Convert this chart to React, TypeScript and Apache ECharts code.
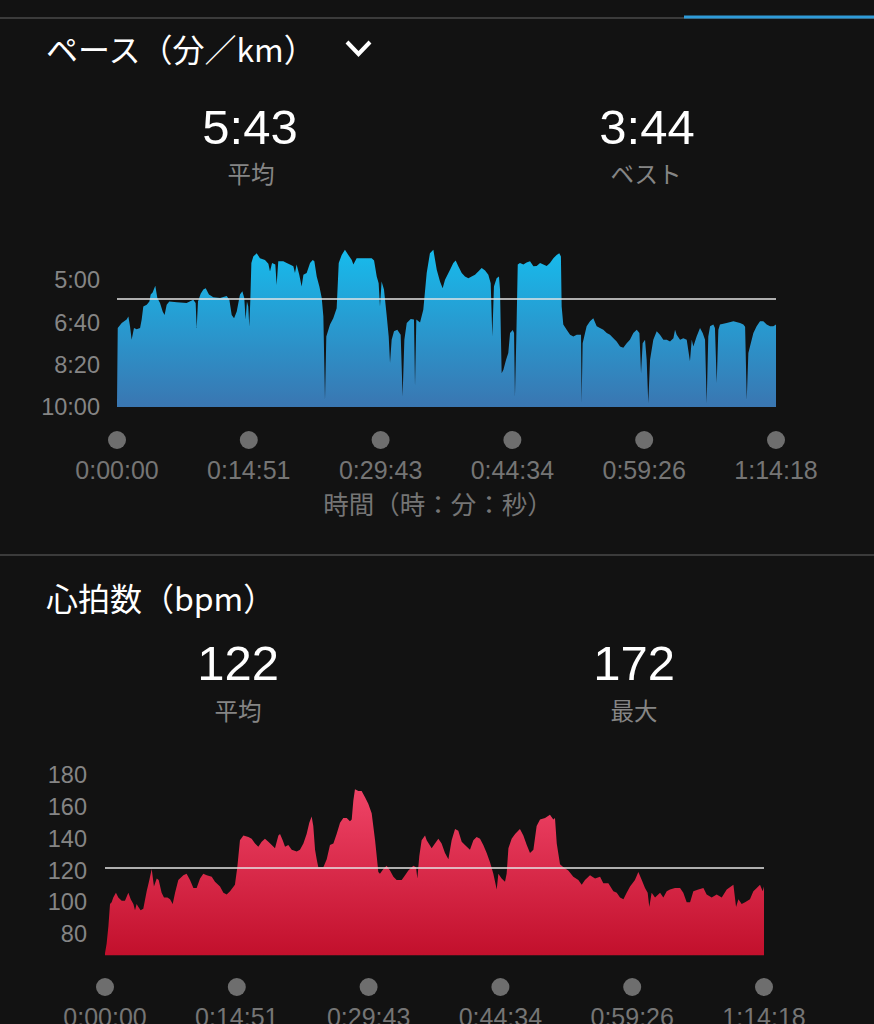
import React, { useEffect, useRef } from 'react';
import * as echarts from 'echarts';

// ---- Data ----
const TOTAL_SEC = 4458; // 1:14:18
const PACE_AVG = 343; // 5:43
const PACE_BEST = 224; // 3:44
const HR_AVG = 122;
const HR_MAX = 172;

const PACE_TIME = [
  0, 5, 32, 65, 77, 88, 99, 115, 133, 156, 167, 178, 201, 219, 228, 241, 259, 273, 291, 309,
  322, 336, 354, 404, 471, 516, 532, 539, 548, 566, 584, 600, 622, 652, 697, 742, 760, 776, 792, 810,
  832, 848, 861, 870, 879, 888, 895, 902, 909, 922, 945, 967, 1001, 1024, 1035, 1049, 1071, 1080, 1091, 1125,
  1148, 1170, 1193, 1204, 1215, 1233, 1249, 1261, 1283, 1306, 1324, 1335, 1351, 1369, 1385, 1396, 1407, 1416, 1441, 1463,
  1486, 1500, 1520, 1542, 1565, 1588, 1599, 1621, 1666, 1723, 1739, 1757, 1770, 1779, 1790, 1806, 1824, 1838, 1847, 1858,
  1874, 1896, 1919, 1932, 1944, 1960, 1987, 2009, 2016, 2025, 2050, 2072, 2095, 2117, 2140, 2163, 2185, 2203, 2219, 2253,
  2275, 2291, 2309, 2332, 2354, 2377, 2399, 2422, 2444, 2467, 2490, 2512, 2528, 2539, 2550, 2568, 2584, 2591, 2602, 2614,
  2632, 2647, 2659, 2677, 2686, 2692, 2701, 2711, 2726, 2749, 2771, 2794, 2817, 2839, 2862, 2884, 2907, 2929, 2952, 2974,
  2992, 3003, 3008, 3019, 3042, 3065, 3087, 3110, 3139, 3143, 3150, 3177, 3200, 3222, 3245, 3267, 3290, 3313, 3335, 3358,
  3380, 3403, 3425, 3448, 3470, 3493, 3516, 3534, 3545, 3556, 3572, 3583, 3594, 3606, 3628, 3651, 3673, 3696, 3719, 3741,
  3764, 3775, 3786, 3809, 3831, 3854, 3876, 3888, 3899, 3921, 3944, 3962, 3978, 3989, 4000, 4012, 4034, 4045, 4057, 4068,
  4079, 4124, 4170, 4215, 4237, 4249, 4260, 4271, 4282, 4305, 4327, 4350, 4372, 4395, 4418, 4440, 4458,
];
const PACE_SEC = [
  591, 413, 401, 393, 386, 409, 441, 413, 416, 413, 393, 362, 358, 350, 334, 329, 313, 342, 354, 374,
  382, 358, 350, 352, 354, 346, 354, 413, 350, 332, 322, 319, 334, 340, 342, 337, 346, 382, 390, 374,
  334, 326, 342, 393, 350, 362, 410, 346, 259, 244, 236, 248, 252, 261, 279, 259, 263, 311, 255, 255,
  259, 263, 267, 283, 263, 287, 315, 287, 283, 259, 252, 255, 291, 315, 342, 386, 583, 433, 405, 390,
  366, 259, 240, 228, 240, 252, 263, 248, 248, 248, 253, 291, 307, 362, 303, 322, 382, 433, 496, 441,
  421, 417, 429, 575, 441, 401, 392, 393, 551, 393, 400, 370, 283, 236, 228, 275, 303, 319, 299, 275,
  259, 253, 267, 283, 291, 295, 291, 287, 279, 271, 277, 287, 307, 433, 315, 295, 291, 322, 520, 512,
  488, 472, 425, 418, 425, 575, 441, 263, 259, 263, 258, 255, 267, 266, 259, 263, 266, 259, 248, 240,
  236, 244, 362, 405, 417, 429, 433, 429, 429, 591, 449, 409, 397, 390, 409, 413, 417, 425, 429, 437,
  445, 457, 460, 449, 441, 425, 417, 425, 520, 449, 441, 488, 591, 488, 441, 421, 429, 441, 441, 445,
  437, 417, 429, 441, 437, 441, 492, 441, 457, 433, 413, 425, 441, 591, 433, 409, 405, 413, 543, 417,
  405, 401, 397, 401, 405, 410, 583, 472, 457, 425, 409, 397, 397, 405, 409, 409, 405,
];

const HR_TIME = [
  0, 11, 23, 34, 45, 56, 74, 90, 113, 135, 158, 174, 192, 203, 214, 226, 241, 259, 282, 300,
  316, 331, 350, 363, 383, 399, 422, 440, 458, 474, 496, 530, 552, 575, 598, 620, 643, 665, 688, 722,
  744, 778, 801, 823, 846, 879, 895, 913, 936, 970, 992, 1015, 1037, 1060, 1082, 1105, 1128, 1150, 1173, 1184,
  1202, 1218, 1240, 1263, 1297, 1319, 1342, 1364, 1382, 1398, 1409, 1421, 1432, 1443, 1477, 1500, 1522, 1545, 1567, 1590,
  1612, 1635, 1657, 1669, 1680, 1691, 1714, 1736, 1759, 1781, 1804, 1827, 1849, 1860, 1883, 1905, 1928, 1951, 1973, 2007,
  2030, 2052, 2086, 2104, 2113, 2126, 2142, 2165, 2176, 2210, 2232, 2255, 2277, 2300, 2323, 2345, 2368, 2390, 2413, 2435,
  2469, 2492, 2514, 2537, 2559, 2582, 2605, 2627, 2650, 2661, 2683, 2706, 2717, 2729, 2751, 2774, 2807, 2830, 2853, 2875,
  2898, 2920, 2943, 2977, 3010, 3033, 3044, 3056, 3078, 3101, 3134, 3168, 3202, 3225, 3247, 3281, 3315, 3349, 3371, 3405,
  3439, 3462, 3484, 3507, 3529, 3552, 3585, 3608, 3631, 3653, 3671, 3682, 3698, 3721, 3755, 3777, 3800, 3822, 3856, 3890,
  3912, 3935, 3958, 3980, 4014, 4048, 4070, 4104, 4138, 4172, 4206, 4251, 4269, 4285, 4307, 4330, 4363, 4386, 4409, 4431,
  4449, 4458,
];
const HR_BPM = [
  68, 74, 85, 99, 100, 103, 106, 103, 101, 101, 106, 102, 99, 95, 99, 97, 95, 96, 107, 114,
  121, 110, 115, 114, 106, 103, 103, 102, 99, 106, 114, 117, 118, 114, 109, 109, 115, 118, 117, 116,
  113, 110, 106, 105, 107, 111, 122, 139, 142, 141, 140, 137, 135, 138, 140, 138, 136, 134, 142, 143,
  139, 135, 136, 133, 132, 133, 137, 143, 150, 154, 148, 133, 127, 122, 122, 127, 136, 137, 143, 150,
  153, 153, 151, 152, 164, 171, 170, 170, 166, 162, 156, 139, 119, 118, 121, 123, 120, 116, 114, 114,
  117, 120, 123, 122, 115, 129, 139, 142, 139, 134, 137, 140, 137, 131, 127, 139, 146, 145, 138, 136,
  133, 139, 141, 140, 136, 131, 125, 118, 108, 118, 115, 113, 118, 134, 140, 143, 146, 142, 136, 131,
  133, 148, 152, 153, 155, 152, 153, 137, 124, 122, 120, 116, 114, 111, 114, 117, 115, 116, 112, 112,
  107, 106, 103, 102, 106, 110, 114, 119, 114, 109, 106, 97, 106, 103, 106, 103, 107, 108, 109, 109,
  106, 100, 100, 107, 108, 109, 105, 103, 105, 103, 108, 111, 97, 102, 99, 100, 102, 107, 109, 111,
  107, 110,
];

const PACE_TICKS_HIDDEN = [200]; // axis top, unlabeled
const HR_TICKS_HIDDEN = [60];
const HR_FLOOR = 66.8;

// ---- helpers ----
const pad = (n: number) => String(n).padStart(2, '0');
const fmtPace = (v: number) => {
  const s = Math.round(v);
  return `${Math.floor(s / 60)}:${pad(s % 60)}`;
};
const fmtTime = (v: number) => {
  const s = Math.floor(Math.round(v * 10) / 10);
  return `${Math.floor(s / 3600)}:${pad(Math.floor((s % 3600) / 60))}:${pad(s % 60)}`;
};

const NUM_FONT = "'Liberation Sans', Arial, sans-serif";
const JP_FONT = "'Noto Sans CJK JP', 'Noto Sans', sans-serif";
const BG = '#121212';
const LABEL_GRAY = '#858585';
const TICK_GRAY = '#757575';
const DOT_GRAY = '#6e6e6e';

const xAxisFor = (gridIndex: number, margin: number) => ({
  type: 'value',
  gridIndex,
  min: 0,
  max: TOTAL_SEC,
  interval: TOTAL_SEC / 5,
  axisLine: { show: false },
  axisTick: { show: false },
  splitLine: { show: false },
  axisLabel: {
    margin,
    showMinLabel: true,
    showMaxLabel: true,
    formatter: (v: number) => `{d|}\n{t|${fmtTime(v)}}`,
    rich: {
      d: { width: 18, height: 18, borderRadius: 9, backgroundColor: DOT_GRAY, lineHeight: 30, align: 'center' },
      t: { fontSize: 25, color: TICK_GRAY, fontFamily: NUM_FONT, lineHeight: 30, align: 'center' },
    },
  },
});

export default function App() {
  const ref = useRef<HTMLDivElement>(null);

  useEffect(() => {
    document.body.style.margin = '0';
    document.body.style.background = BG;
    if (!ref.current) return;
    const chart = echarts.init(ref.current, null, { renderer: 'svg' });

    const paceData = PACE_TIME.map((t, i) => [t, PACE_SEC[i]]);
    const hrData = HR_TIME.map((t, i) => [t, HR_BPM[i]]);

    const text = (t: string, x: number, y: number, size: number, fill: string, align = 'center', family = JP_FONT) => ({
      type: 'text',
      x,
      y,
      silent: true,
      style: {
        text: t,
        fill,
        fontSize: size,
        fontFamily: family,
        align,
        verticalAlign: 'middle',
      },
    });

    const option: any = {
      animation: false,
      backgroundColor: BG,
      grid: [
        { left: 117, right: 98, top: 238, height: 169, outerBoundsMode: 'none', containLabel: false },
        { left: 105, right: 110, top: 775, height: 191, outerBoundsMode: 'none', containLabel: false },
      ],
      xAxis: [xAxisFor(0, 18), xAxisFor(1, 6)],
      yAxis: [
        {
          type: 'value',
          gridIndex: 0,
          inverse: true,
          min: 200,
          max: 600,
          interval: 100,
          axisLine: { show: false },
          axisTick: { show: false },
          splitLine: { show: false },
          axisLabel: {
            margin: 17,
            color: LABEL_GRAY,
            fontSize: 23.5,
            fontFamily: NUM_FONT,
            formatter: (v: number) => (PACE_TICKS_HIDDEN.includes(v) ? '' : fmtPace(v)),
          },
        },
        {
          type: 'value',
          gridIndex: 1,
          min: 60,
          max: 180,
          interval: 20,
          axisLine: { show: false },
          axisTick: { show: false },
          splitLine: { show: false },
          axisLabel: {
            margin: 18,
            color: LABEL_GRAY,
            fontSize: 23.5,
            fontFamily: NUM_FONT,
            formatter: (v: number) => (HR_TICKS_HIDDEN.includes(v) ? '' : String(v)),
          },
        },
      ],
      series: [
        {
          type: 'line',
          xAxisIndex: 0,
          yAxisIndex: 0,
          data: paceData,
          showSymbol: false,
          symbol: 'none',
          lineStyle: { width: 0 },
          areaStyle: {
            origin: 'end',
            opacity: 1,
            color: new echarts.graphic.LinearGradient(0, 0, 0, 1, [
              { offset: 0, color: '#17bbec' },
              { offset: 1, color: '#3a76b1' },
            ]),
          },
          markLine: {
            silent: true,
            symbol: ['none', 'none'],
            label: { show: false },
            lineStyle: { color: '#e4e4e4', width: 1.5, type: 'solid' },
            data: [{ yAxis: PACE_AVG }],
          },
        },
        {
          type: 'line',
          xAxisIndex: 1,
          yAxisIndex: 1,
          data: hrData,
          showSymbol: false,
          symbol: 'none',
          lineStyle: { width: 0 },
          areaStyle: {
            origin: HR_FLOOR,
            opacity: 1,
            color: new echarts.graphic.LinearGradient(0, 0, 0, 1, [
              { offset: 0, color: '#ef4467' },
              { offset: 1, color: '#c2102c' },
            ]),
          },
          markLine: {
            silent: true,
            symbol: ['none', 'none'],
            label: { show: false },
            lineStyle: { color: '#e4e4e4', width: 1.5, type: 'solid' },
            data: [{ yAxis: HR_AVG }],
          },
        },
      ],
      graphic: [
        { type: 'line', silent: true, shape: { x1: 0, y1: 18, x2: 874, y2: 18 }, style: { stroke: '#4a4a4a', lineWidth: 1.5 } },
        { type: 'rect', silent: true, shape: { x: 684, y: 15.5, width: 190, height: 3 }, style: { fill: '#2f9bd8' } },
        text('ペース（分／km）', 46, 48, 32, '#ffffff', 'left'),
        { type: 'polyline', silent: true, shape: { points: [[347, 42], [358.5, 54], [370, 42]] }, style: { stroke: '#ffffff', lineWidth: 4, fill: null } },
        text(fmtPace(PACE_AVG), 250, 127, 49, '#ffffff', 'center', NUM_FONT),
        text('平均', 251, 173, 23.5, LABEL_GRAY),
        text(fmtPace(PACE_BEST), 647, 127, 49, '#ffffff', 'center', NUM_FONT),
        text('ベスト', 646, 173, 23.5, LABEL_GRAY),
        text('時間（時：分：秒）', 438, 502, 25.5, TICK_GRAY),
        { type: 'line', silent: true, shape: { x1: 0, y1: 555, x2: 874, y2: 555 }, style: { stroke: '#4a4a4a', lineWidth: 1.5 } },
        text('心拍数（bpm）', 46, 597, 32, '#ffffff', 'left'),
        text(String(HR_AVG), 238, 663, 49, '#ffffff', 'center', NUM_FONT),
        text('平均', 238, 710, 23.5, LABEL_GRAY),
        text(String(HR_MAX), 634, 663, 49, '#ffffff', 'center', NUM_FONT),
        text('最大', 634, 710, 23.5, LABEL_GRAY),
      ],
    };

    chart.setOption(option);
    return () => chart.dispose();
  }, []);

  return <div ref={ref} style={{ width: 874, height: 1024, background: BG }} />;
}
